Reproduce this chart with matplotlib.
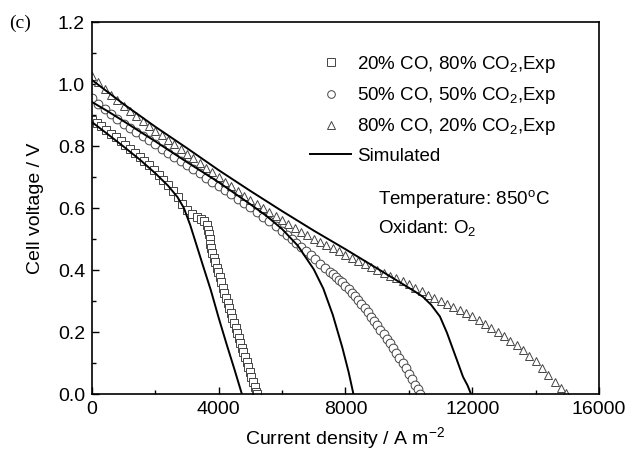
# Cell voltage vs current density, three CO/CO2 fuel mixtures (panel c)
import matplotlib
matplotlib.use('Agg')
import matplotlib.pyplot as plt
from matplotlib.ticker import MultipleLocator

plt.rcParams['font.family'] = ['Liberation Sans', 'DejaVu Sans']
plt.rcParams['mathtext.fontset'] = 'custom'
plt.rcParams['mathtext.rm'] = 'Liberation Sans'
plt.rcParams['mathtext.it'] = 'Liberation Sans:italic'

# 20% CO, 80% CO2 - experiment
j_20 = [0, 150, 300, 450, 600, 750, 900, 1050, 1200, 1350, 1500, 1650, 1800, 1950,
        2100, 2250, 2400, 2550, 2700, 2850, 3000, 3150, 3300, 3450, 3550, 3620, 3660,
        3690, 3710, 3730, 3760, 3800, 3840, 3880, 3930, 3980, 4030, 4080, 4130, 4180,
        4230, 4280, 4330, 4380, 4430, 4480, 4530, 4580, 4630, 4680, 4730, 4780, 4830,
        4880, 4930, 4980, 5030, 5080, 5130, 5180, 5210]
v_20 = [0.885, 0.874, 0.863, 0.852, 0.840, 0.828, 0.816, 0.804, 0.791, 0.778, 0.765,
        0.752, 0.738, 0.723, 0.708, 0.692, 0.675, 0.655, 0.634, 0.614, 0.595, 0.582,
        0.572, 0.565, 0.558, 0.545, 0.530, 0.515, 0.500, 0.485, 0.470, 0.455, 0.440,
        0.425, 0.408, 0.392, 0.376, 0.360, 0.343, 0.327, 0.311, 0.295, 0.279, 0.262,
        0.246, 0.230, 0.214, 0.198, 0.182, 0.166, 0.150, 0.135, 0.120, 0.104, 0.088,
        0.072, 0.056, 0.040, 0.024, 0.008, 0.0]

# 50% CO, 50% CO2 - experiment
j_50 = [0, 200, 400, 600, 800, 1000, 1200, 1400, 1600, 1800, 2000, 2200, 2400, 2600,
        2800, 3000, 3200, 3400, 3600, 3800, 4000, 4200, 4400, 4600, 4800, 5000, 5200,
        5400, 5600, 5800, 6000, 6150, 6300, 6450, 6600, 6750, 6900, 7050, 7200, 7350,
        7500, 7600, 7700, 7800, 7900, 8000, 8100, 8200, 8300, 8400, 8500, 8600, 8700,
        8800, 8900, 9000, 9100, 9200, 9300, 9400, 9500, 9600, 9700, 9800, 9900, 10000,
        10100, 10200, 10280, 10350]
v_50 = [0.955, 0.937, 0.920, 0.904, 0.887, 0.870, 0.857, 0.844, 0.831, 0.818, 0.805,
        0.792, 0.778, 0.765, 0.751, 0.738, 0.725, 0.712, 0.698, 0.685, 0.672, 0.658,
        0.644, 0.630, 0.616, 0.602, 0.587, 0.572, 0.557, 0.541, 0.525, 0.513, 0.500,
        0.487, 0.474, 0.461, 0.448, 0.435, 0.421, 0.408, 0.395, 0.387, 0.378, 0.369,
        0.360, 0.350, 0.339, 0.327, 0.315, 0.303, 0.290, 0.277, 0.264, 0.250, 0.236,
        0.222, 0.208, 0.193, 0.178, 0.163, 0.148, 0.132, 0.116, 0.100, 0.083, 0.065,
        0.048, 0.030, 0.015, 0.0]

# 80% CO, 20% CO2 - experiment
j_80 = [0, 200, 400, 600, 800, 1000, 1200, 1400, 1600, 1800, 2000, 2200, 2400, 2600,
        2800, 3000, 3200, 3400, 3600, 3800, 4000, 4200, 4400, 4600, 4800, 5000, 5200,
        5400, 5600, 5800, 6000, 6200, 6400, 6600, 6800, 7000, 7200, 7400, 7600, 7800,
        8000, 8200, 8400, 8600, 8800, 9000, 9200, 9400, 9600, 9800, 10000, 10200, 10400,
        10600, 10800, 11000, 11200, 11400, 11600, 11800, 12000, 12200, 12400, 12600,
        12800, 13000, 13200, 13400, 13600, 13800, 14000, 14200, 14400, 14600, 14800, 14950]
v_80 = [1.025, 1.005, 0.985, 0.966, 0.948, 0.930, 0.914, 0.898, 0.882, 0.866, 0.850,
        0.835, 0.820, 0.805, 0.790, 0.775, 0.760, 0.745, 0.730, 0.715, 0.700, 0.685,
        0.670, 0.655, 0.640, 0.625, 0.612, 0.599, 0.586, 0.573, 0.560, 0.548, 0.536,
        0.524, 0.512, 0.500, 0.490, 0.480, 0.470, 0.460, 0.450, 0.440, 0.430, 0.420,
        0.410, 0.400, 0.391, 0.382, 0.373, 0.364, 0.354, 0.343, 0.332, 0.321, 0.311,
        0.301, 0.291, 0.281, 0.271, 0.262, 0.251, 0.239, 0.227, 0.214, 0.201, 0.187,
        0.172, 0.157, 0.141, 0.124, 0.105, 0.084, 0.061, 0.040, 0.020, 0.004]

# simulated curves
sim_j_20 = [0, 500, 1000, 1500, 2000, 2400, 2700, 2900, 3100, 3300, 3500, 3750, 4000,
            4250, 4500, 4730]
sim_v_20 = [0.877, 0.838, 0.798, 0.757, 0.712, 0.672, 0.635, 0.600, 0.545, 0.480,
            0.415, 0.335, 0.245, 0.160, 0.078, 0.0]

sim_j_50 = [0, 500, 1000, 2000, 3000, 4000, 5000, 5500, 6000, 6500, 7000, 7300, 7600,
            7900, 8100, 8250]
sim_v_50 = [0.942, 0.912, 0.880, 0.815, 0.748, 0.683, 0.612, 0.575, 0.532, 0.478,
            0.402, 0.340, 0.255, 0.150, 0.070, 0.0]

sim_j_80 = [0, 1000, 2000, 3000, 4000, 5000, 6000, 7000, 8000, 9000, 9720, 10200,
            10450, 10700, 10980, 11200, 11400, 11550, 11710, 11850, 11960]
sim_v_80 = [1.013, 0.935, 0.862, 0.793, 0.722, 0.655, 0.590, 0.527, 0.467, 0.405,
            0.360, 0.330, 0.313, 0.288, 0.250, 0.198, 0.142, 0.100, 0.055, 0.028, 0.0]

labels = ['20% CO, 80% CO$_2$,Exp', '50% CO, 50% CO$_2$,Exp',
          '80% CO, 20% CO$_2$,Exp', 'Simulated']

fig = plt.figure(figsize=(6.41, 4.59), dpi=100)
ax = fig.add_axes([0.1435, 0.1416, 0.791, 0.8104])

mk = dict(ls='none', mfc='white', mec='#444444', ms=6.3, mew=0.7)
h1, = ax.plot(j_20, v_20, marker='s', **mk)
h2, = ax.plot(j_50, v_50, marker='o', **mk)
h3, = ax.plot(j_80, v_80, marker='^', **mk)
h4, = ax.plot(sim_j_20, sim_v_20, color='black', lw=1.4)
ax.plot(sim_j_50, sim_v_50, color='black', lw=1.4)
ax.plot(sim_j_80, sim_v_80, color='black', lw=1.4)

ax.set_xlim(0, 16000)
ax.set_ylim(0, 1.2)
ax.xaxis.set_major_locator(MultipleLocator(4000))
ax.xaxis.set_minor_locator(MultipleLocator(2000))
ax.yaxis.set_major_locator(MultipleLocator(0.2))
ax.yaxis.set_minor_locator(MultipleLocator(0.1))
ax.yaxis.set_major_formatter(plt.FormatStrFormatter('%.1f'))
ax.tick_params(which='both', direction='in', top=False, right=False, labelsize=14)
ax.tick_params(which='major', length=5, width=1, pad=5)
ax.tick_params(which='minor', length=3, width=1)
for s in ax.spines.values():
    s.set_linewidth(1.2)

ax.set_xlabel('Current density / A m$^{-2}$', fontsize=14, labelpad=5)
ax.set_ylabel('Cell voltage / V', fontsize=14, labelpad=10)

leg = ax.legend([h1, h2, h3, h4], labels, loc='upper right', frameon=False,
                fontsize=13.5, handlelength=2.2, handletextpad=0.3,
                labelspacing=0.55, bbox_to_anchor=(0.948, 0.96))
for h in leg.legend_handles[:3]:
    h.set_markersize(5.5)

ax.text(0.565, 0.525, 'Temperature: 850$^{\\rm o}$C', transform=ax.transAxes,
        fontsize=13.5, va='center')
ax.text(0.565, 0.445, 'Oxidant: O$_2$', transform=ax.transAxes,
        fontsize=13.5, va='center')

fig.text(0.015, 0.950, '(c)', fontsize=14, family='Liberation Serif', va='center')

fig.savefig('out.png', dpi=100)
